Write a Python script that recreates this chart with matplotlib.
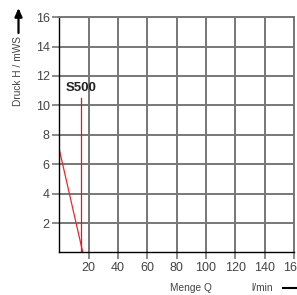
import matplotlib
matplotlib.use("Agg")
import matplotlib.pyplot as plt
from matplotlib.lines import Line2D

# --- Data ---
curve_q = [0, 16]          # l/min
curve_h = [7, 0]           # mWS
limit_q = [15, 15]
limit_h = [0, 10.5]
x_ticks = [20, 40, 60, 80, 100, 120, 140, 160]
y_ticks = [2, 4, 6, 8, 10, 12, 14, 16]
model_label = "S500"

plt.rcParams['font.family'] = ['Liberation Sans', 'DejaVu Sans']

W, H = 297, 295
fig = plt.figure(figsize=(W / 100, H / 100), dpi=100)
ax = fig.add_axes([59.3 / W, 1 - 252.4 / H, (294 - 59.3) / W, (252.4 - 17.2) / H])

grid_col = '#777777'
ax.set_xlim(0, 160)
ax.set_ylim(0, 16)
ax.set_xticks(x_ticks)
ax.set_yticks(y_ticks)
ax.grid(True, color=grid_col, linewidth=1.4)
ax.tick_params(colors=grid_col, labelcolor='#444444', labelsize=9, length=5, width=1.2, pad=2)

for side in ['left', 'bottom']:
    ax.spines[side].set_color('black')
    ax.spines[side].set_linewidth(1.0)
for side in ['top', 'right']:
    ax.spines[side].set_color(grid_col)
    ax.spines[side].set_linewidth(1.4)

ax.plot(curve_q, curve_h, color='#e8272d', linewidth=0.9)
ax.plot(limit_q, limit_h, color='#cc1f26', linewidth=0.9)
ax.text(limit_q[0], 10.8, model_label, ha='center', va='bottom',
        fontsize=9.5, fontweight='bold', color='#222222')

# axis captions
fig.text(18 / W, 1 - 71 / H, "Druck H / mWS", rotation=90, ha='center', va='center',
         fontsize=7.3, color='#444444')
fig.add_artist(plt.Annotation("", xy=(18.5 / W, 1 - 8 / H), xytext=(18.5 / W, 1 - 33 / H),
                              xycoords='figure fraction', textcoords='figure fraction',
                              arrowprops=dict(arrowstyle='-|>,head_length=0.5,head_width=0.22',
                                              color='black', linewidth=1.6, shrinkA=0, shrinkB=0)))

fig.text(191 / W, 1 - 288 / H, "Menge Q", ha='center', va='center', fontsize=7.3, color='#444444')
fig.text(262 / W, 1 - 288 / H, "l/min", ha='center', va='center', fontsize=7.3, color='#444444')
fig.add_artist(Line2D([283 / W, 297 / W], [1 - 288 / H, 1 - 288 / H], color='black', linewidth=1.5))

fig.savefig("out.png", dpi=100)
